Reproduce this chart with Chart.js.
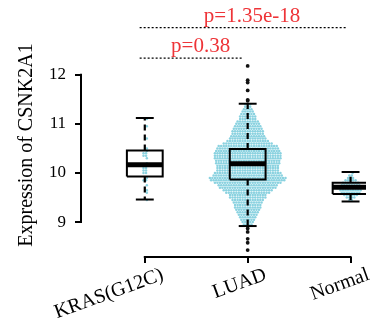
<!DOCTYPE html>
<html><head><meta charset="utf-8">
<script src="https://cdn.jsdelivr.net/npm/chart.js@4/dist/chart.umd.min.js"></script>
<style>html,body{margin:0;padding:0;background:#fff}#wrap{width:370px;height:324px}</style>
</head><body><div id="wrap"><canvas id="c"></canvas></div>
<script>
const categories = ['KRAS(G12C)', 'LUAD', 'Normal'];
const yTicks = [9, 10, 11, 12];
const whiskerLow = [9.46, 8.92, 9.42];
const q1 = [9.93, 9.87, 9.57];
const median = [10.17, 10.19, 9.71];
const q3 = [10.46, 10.49, 9.80];
const whiskerHigh = [11.12, 11.41, 10.02];

const krasBins = [11.10, 10.95, 10.70, 10.50, 10.45, 10.40, 10.35, 10.30, 10.20, 10.15, 10.10, 10.05, 10.00, 9.90, 9.85, 9.75, 9.65, 9.60, 9.45];
const krasCounts = [1, 1, 1, 1, 1, 2, 2, 1, 1, 1, 2, 2, 2, 1, 2, 1, 1, 1, 1];
const luadBins = [11.40, 11.35, 11.30, 11.25, 11.20, 11.15, 11.10, 11.05, 11.00, 10.95, 10.90, 10.85, 10.80, 10.75, 10.70, 10.65, 10.60, 10.55, 10.50, 10.45, 10.40, 10.35, 10.30, 10.25, 10.20, 10.15, 10.10, 10.05, 10.00, 9.95, 9.90, 9.85, 9.80, 9.75, 9.70, 9.65, 9.60, 9.55, 9.50, 9.45, 9.40, 9.35, 9.30, 9.25, 9.20, 9.15, 9.10, 9.05, 9.00, 8.95];
const luadCounts = [3, 3, 4, 5, 6, 7, 7, 9, 10, 11, 12, 13, 13, 14, 15, 17, 20, 24, 25, 26, 27, 27, 27, 26, 26, 25, 25, 25, 27, 28, 31, 30, 27, 24, 23, 20, 18, 15, 15, 13, 12, 11, 11, 10, 9, 8, 7, 6, 5, 4];
const normalBins = [10.00, 9.95, 9.90, 9.85, 9.80, 9.75, 9.70, 9.65, 9.60, 9.55, 9.50, 9.45];
const normalCounts = [1, 2, 3, 5, 7, 8, 9, 9, 8, 6, 4, 2];
const luadOutliers = [12.18, 11.89, 11.84, 11.68, 11.49, 11.47, 8.87, 8.80, 8.66, 8.58, 8.43];

const comparisons = [[0, 1], [0, 2]];
const pValues = ['p=0.38', 'p=1.35e-18'];
const pLevels = [12.34, 12.96];

// ---- build datasets ----
const DOT_STEP = 0.0245, BOX_HALF = 0.174, CAP_HALF = 0.087;
const groupBins = [[krasBins, krasCounts], [luadBins, luadCounts], [normalBins, normalCounts]];
const pts = [];
groupBins.forEach(([bins, counts], g) => {
  bins.forEach((v, i) => {
    const n = counts[i];
    const shift = n === 1 ? 0.02 : 0;
    for (let k = 0; k < n; k++) pts.push({x: g + shift + (k - (n - 1) / 2) * DOT_STEP, y: v});
  });
});
const outPts = luadOutliers.map(v => ({x: 1, y: v}));

const lineDs = (data, width, dash, order) => ({
  type: 'scatter', data, showLine: true, borderColor: '#000', borderWidth: width,
  borderDash: dash || [], pointRadius: 0, fill: false, order, borderCapStyle: 'butt', borderJoinStyle: 'miter'
});
const datasets = [];
categories.forEach((c, g) => {
  datasets.push(lineDs([{x: g, y: q3[g]}, {x: g, y: whiskerHigh[g]}], 2.2, [6, 4], 2));
  datasets.push(lineDs([{x: g, y: q1[g]}, {x: g, y: whiskerLow[g]}], 2.2, [6, 4], 2));
  datasets.push(lineDs([{x: g - CAP_HALF, y: whiskerHigh[g]}, {x: g + CAP_HALF, y: whiskerHigh[g]}], 2, null, 1));
  datasets.push(lineDs([{x: g - CAP_HALF, y: whiskerLow[g]}, {x: g + CAP_HALF, y: whiskerLow[g]}], 2, null, 1));
  datasets.push(lineDs([{x: g - BOX_HALF, y: q1[g]}, {x: g + BOX_HALF, y: q1[g]}, {x: g + BOX_HALF, y: q3[g]}, {x: g - BOX_HALF, y: q3[g]}, {x: g - BOX_HALF, y: q1[g]}], 2, null, 1));
  datasets.push(lineDs([{x: g - BOX_HALF, y: median[g]}, {x: g + BOX_HALF, y: median[g]}], 5, null, 1));
});
datasets.push({type: 'scatter', data: outPts, pointRadius: 1.9, pointBackgroundColor: '#111', pointBorderWidth: 0, order: 3});
datasets.push({type: 'scatter', data: pts, pointRadius: 1.25, pointBackgroundColor: '#8ad2e0', pointBorderWidth: 0, order: 4});

const SERIF = '"Liberation Serif", "Times New Roman", serif';

const decor = {
  id: 'decor',
  afterDraw(chart) {
    const {ctx, scales: {x, y}, chartArea} = chart;
    ctx.save();
    ctx.strokeStyle = '#000'; ctx.lineWidth = 2; ctx.lineCap = 'butt';
    ctx.beginPath();
    ctx.moveTo(chartArea.left, y.getPixelForValue(yTicks[0]) + 1);
    ctx.lineTo(chartArea.left, y.getPixelForValue(yTicks[yTicks.length - 1]) - 1);
    ctx.stroke();
    ctx.beginPath();
    ctx.moveTo(x.getPixelForValue(0) - 1, chartArea.bottom);
    ctx.lineTo(x.getPixelForValue(categories.length - 1) + 1, chartArea.bottom);
    ctx.stroke();
    comparisons.forEach(([a, b], i) => {
      const py = y.getPixelForValue(pLevels[i]);
      const xa = x.getPixelForValue(a - 0.05), xb = x.getPixelForValue(b - 0.04);
      ctx.setLineDash([2, 2]); ctx.lineWidth = 1.2;
      ctx.beginPath(); ctx.moveTo(xa, py); ctx.lineTo(xb, py); ctx.stroke();
      ctx.setLineDash([]);
      ctx.fillStyle = '#ee3438';
      ctx.font = '21px ' + SERIF;
      ctx.textAlign = 'center'; ctx.textBaseline = 'alphabetic';
      ctx.fillText(pValues[i], (xa + xb) / 2 + 9, py - 6);
    });
    ctx.fillStyle = '#000';
    ctx.font = '20px ' + SERIF;
    ctx.translate(chartArea.left - 54, 145);
    ctx.rotate(-Math.PI / 2);
    ctx.textAlign = 'center'; ctx.textBaseline = 'middle';
    ctx.fillText('Expression of CSNK2A1', 0, 0);
    ctx.restore();
  }
};

new Chart(document.getElementById('c'), {
  type: 'scatter',
  data: {datasets},
  options: {
    responsive: true, maintainAspectRatio: false, animation: false,
    layout: {padding: {top: 0, right: 0, bottom: 0, left: 0}},
    plugins: {legend: {display: false}, tooltip: {enabled: false}},
    scales: {
      x: {
        type: 'linear', min: -0.62, max: 2.15,
        afterBuildTicks: s => { s.ticks = categories.map((c, i) => ({value: i})); },
        afterFit: s => { s.height = 67; s.paddingLeft = 0; s.paddingRight = 0; s.paddingTop = 0; s.paddingBottom = 0; },
        border: {display: false},
        grid: {display: true, drawOnChartArea: false, drawTicks: true, tickLength: 6, color: '#000', lineWidth: 2},
        ticks: {
          callback: v => categories[v], autoSkip: false, minRotation: 20, maxRotation: 20,
          labelOffset: 18, padding: 0,
          font: {family: SERIF, size: 20}, color: '#000'
        }
      },
      y: {
        type: 'linear', min: 8.29, max: 13.44,
        afterBuildTicks: s => { s.ticks = yTicks.map(v => ({value: v})); },
        afterFit: s => { s.width = 81; s.paddingTop = 0; s.paddingBottom = 0; s.paddingLeft = 0; s.paddingRight = 0; },
        border: {display: false},
        grid: {display: true, drawOnChartArea: false, drawTicks: true, tickLength: 6, color: '#000', lineWidth: 2},
        ticks: {font: {family: SERIF, size: 17}, color: '#000', padding: 9}
      }
    }
  },
  plugins: [decor]
});
</script>
</body></html>
